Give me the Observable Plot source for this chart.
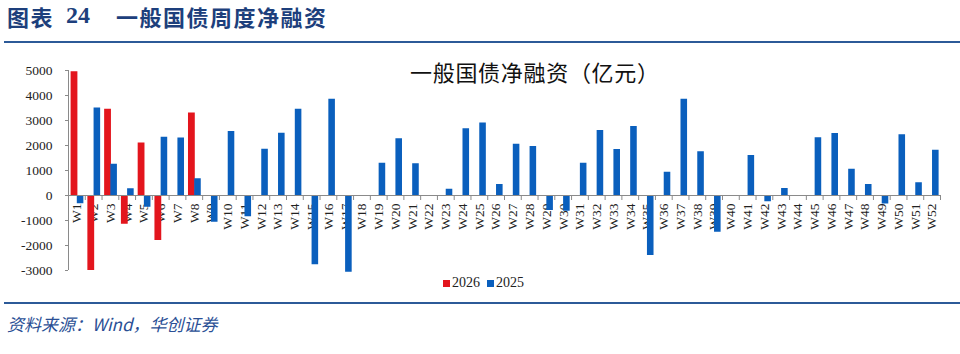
<!DOCTYPE html>
<html><head><meta charset="utf-8">
<script src="https://cdn.jsdelivr.net/npm/d3@7"></script>
<script src="https://cdn.jsdelivr.net/npm/@observablehq/plot@0.6"></script>
<style>
body{margin:0;background:#fff;}
#wrap{position:relative;width:960px;height:354px;overflow:hidden;background:#fff;}
.hdr{position:absolute;top:5px;line-height:23px;font-family:"Noto Sans CJK SC",sans-serif;font-weight:700;font-size:22px;color:#1d3f7c;white-space:nowrap;letter-spacing:1.5px;}
.hdr.num{font-family:"Liberation Serif",serif;font-size:24px;letter-spacing:0;}
.rule{position:absolute;left:4px;width:956px;height:2px;background:#2c5a98;}
#chart{position:absolute;left:0;top:0;}
#title{position:absolute;left:410px;top:60px;line-height:22px;font-family:"Noto Sans CJK SC",sans-serif;font-size:22px;letter-spacing:0.7px;color:#111;white-space:nowrap;}
#legend{position:absolute;left:443px;top:275px;font-family:"Liberation Serif",serif;font-size:14px;color:#222;white-space:nowrap;line-height:15px;}
#legend span.sw{display:inline-block;width:7px;height:7px;margin-right:2px;vertical-align:0px;}
#src{position:absolute;left:7px;top:315px;line-height:18px;font-family:"Noto Sans CJK SC",sans-serif;font-style:italic;font-size:17px;color:#2a4f95;white-space:nowrap;}
</style></head>
<body>
<div id="wrap">
  <div class="hdr" style="left:7px">图表</div>
  <div class="hdr num" style="left:66px;top:4px">24</div>
  <div class="hdr" style="left:116px">一般国债周度净融资</div>
  <div class="rule" style="top:41px"></div>
  <div id="chart"></div>
  <div id="title">一般国债净融资（亿元）</div>
  <div id="legend"><span class="sw" style="background:#e3151d"></span>2026&nbsp;&nbsp;<span class="sw" style="background:#0a5fbd"></span>2025</div>
  <div class="rule" style="top:302px"></div>
  <div id="src">资料来源：Wind，华创证券</div>
</div>
<script>
const weeks = ["W1","W2","W3","W4","W5","W6","W7","W8","W9","W10","W11","W12","W13","W14","W15","W16","W17","W18","W19","W20","W21","W22","W23","W24","W25","W26","W27","W28","W29","W30","W31","W32","W33","W34","W35","W36","W37","W38","W39","W40","W41","W42","W43","W44","W45","W46","W47","W48","W49","W50","W51","W52"];
const v2026 = [4950, -3000, 3450, -1150, 2100, -1800, null, 3300];
const v2025 = [-330, 3500, 1250, 270, -470, 2330, 2300, 670, -1070, 2560, -850, 1850, 2490, 3450, -2770, 3850, -3070, 0, 1290, 2270, 1270, 0, 250, 2670, 2900, 440, 2050, 1960, -600, -630, 1290, 2600, 1840, 2760, -2400, 930, 3850, 1750, -1470, 0, 1600, -250, 280, 0, 2310, 2480, 1050, 440, -340, 2430, 510, 1810];
const yTicks = [-3000, -2000, -1000, 0, 1000, 2000, 3000, 4000, 5000];
const series = ["2026", "2025"];
const colors = ["#e3151d", "#0a5fbd"];

const rows2026 = v2026.map((v, i) => ({week: weeks[i], value: v})).filter(d => d.value != null);
const rows2025 = v2025.map((v, i) => ({week: weeks[i], value: v}));

const W = 960, H = 300, mL = 68, mR = 20, mT = 70, mB = 30;
const bw = (W - mL - mR) / weeks.length;
const axisColor = "#8a8a8a";

const chart = Plot.plot({
  width: W, height: H,
  marginTop: mT, marginBottom: mB, marginLeft: mL, marginRight: mR,
  style: {background: "transparent", fontFamily: "'Liberation Serif', serif"},
  x: {type: "band", domain: weeks, padding: 0, axis: null, label: null},
  y: {domain: [yTicks[0], yTicks[yTicks.length - 1]], axis: null, label: null},
  marks: [
    Plot.axisY(yTicks, {label: null, tickSize: 3, tickPadding: 13, fontSize: 13.5, tickFormat: d => String(d), stroke: axisColor, color: "#222"}),
    Plot.text(weeks, {x: d => d, y: () => 0, text: d => d, rotate: -90, textAnchor: "end", dy: 8, fontSize: 13.5, fill: "#222"}),
    Plot.barY(rows2026, {x: "week", y: "value", fill: colors[0], insetLeft: 2.6, insetRight: bw - 9.4}),
    Plot.barY(rows2025, {x: "week", y: "value", fill: colors[1], insetLeft: 8.8, insetRight: 1.4}),
    Plot.ruleY([0], {stroke: axisColor}),
    Plot.ruleX([weeks[0]], {x: d => d, dx: -bw / 2, stroke: axisColor}),
    Plot.ruleX(weeks, {x: d => d, y1: () => 0, y2: () => 0, insetTop: 5, dx: -bw / 2, stroke: axisColor}),
    Plot.ruleX([weeks[weeks.length - 1]], {x: d => d, y1: () => 0, y2: () => 0, insetTop: 5, dx: bw / 2, stroke: axisColor})
  ]
});
document.getElementById("chart").appendChild(chart);
</script>
</body></html>
